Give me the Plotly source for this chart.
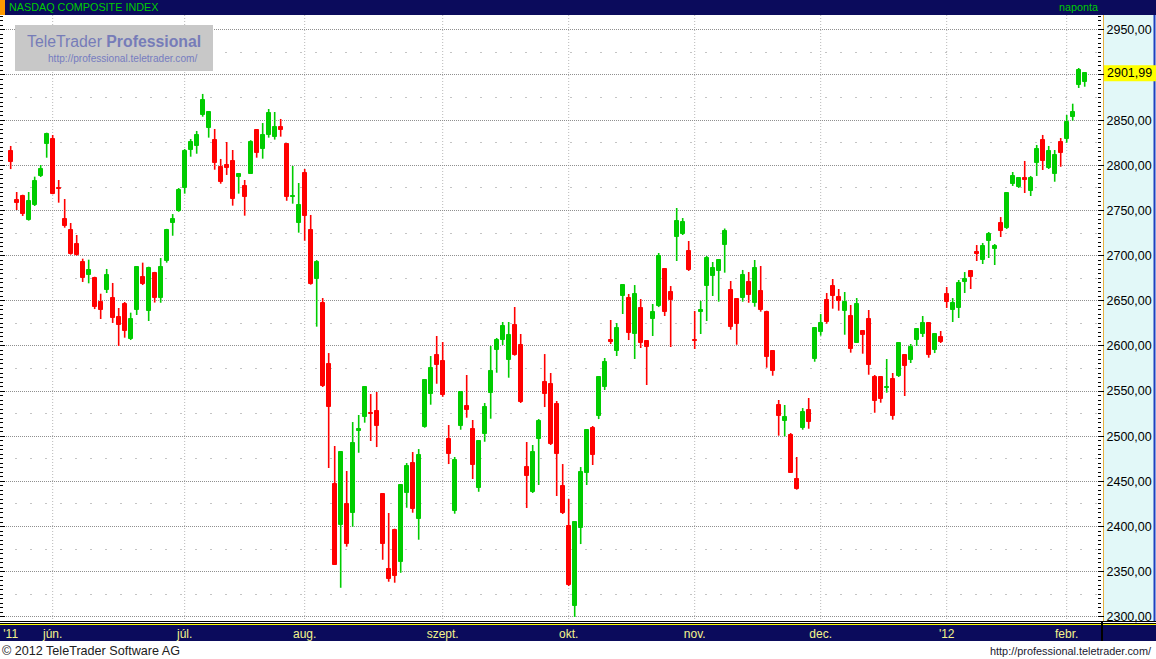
import plotly.graph_objects as go
import pandas as pd

# ---------------- data ----------------
holidays = ["2011-05-30", "2011-07-04", "2011-09-05", "2011-11-24",
            "2011-12-26", "2012-01-02", "2012-01-16"]
dates = [d.strftime("%Y-%m-%d") for d in
         pd.bdate_range("2011-05-20", "2012-02-06", freq="C", holidays=holidays)]

opens = [2815.8, 2761.6, 2766.0, 2739.8, 2756.0, 2788.2, 2823.9, 2829.1, 2774.5, 2740.5,
         2728.4, 2712.8, 2692.9, 2678.5, 2675.5, 2649.0, 2662.2, 2653.0, 2632.0, 2646.4,
         2607.6, 2639.8, 2676.3, 2638.7, 2680.7, 2653.4, 2694.4, 2736.4, 2749.7, 2775.2,
         2817.3, 2821.7, 2856.0, 2841.6, 2828.0, 2798.1, 2800.3, 2804.8, 2787.0, 2777.1,
         2790.7, 2839.1, 2818.4, 2833.9, 2831.7, 2842.4, 2823.6, 2765.0, 2736.4, 2791.5,
         2728.4, 2674.4, 2647.5, 2580.0, 2447.1, 2402.0, 2424.9, 2415.3, 2506.0, 2521.6,
         2526.0, 2527.9, 2436.0, 2352.6, 2396.5, 2361.0, 2437.4, 2470.3, 2408.6, 2510.5,
         2547.1, 2589.9, 2583.3, 2496.9, 2417.5, 2511.6, 2533.4, 2508.0, 2443.0, 2502.8,
         2548.2, 2595.8, 2606.9, 2584.7, 2623.1, 2601.0, 2465.9, 2438.2, 2496.9, 2560.0,
         2557.8, 2535.7, 2444.9, 2400.6, 2312.0, 2398.3, 2459.3, 2509.1, 2522.4, 2554.5,
         2606.5, 2594.4, 2655.3, 2653.0, 2613.2, 2642.0, 2605.4, 2629.8, 2644.2, 2685.2,
         2659.7, 2720.6, 2723.9, 2705.1, 2606.5, 2637.5, 2666.3, 2677.4, 2683.3, 2712.1,
         2661.9, 2651.9, 2653.4, 2670.8, 2647.8, 2660.8, 2637.5, 2594.4, 2534.6, 2517.2,
         2501.3, 2452.6, 2509.4, 2529.0, 2585.8, 2615.7, 2650.8, 2666.3, 2654.2, 2639.0,
         2633.1, 2603.5, 2616.5, 2629.8, 2565.6, 2565.6, 2553.0, 2563.3, 2566.7, 2589.9,
         2584.4, 2606.5, 2613.2, 2625.4, 2595.5, 2609.9, 2657.5, 2639.8, 2642.0, 2670.8,
         2682.9, 2704.0, 2695.1, 2716.2, 2707.3, 2736.1, 2730.6, 2779.3, 2776.0, 2785.9,
         2771.5, 2802.5, 2828.0, 2797.0, 2790.7, 2825.8, 2829.5, 2853.8, 2889.3, 2892.6]

highs = [2821.4, 2770.4, 2767.4, 2770.4, 2787.4, 2800.3, 2836.1, 2833.5, 2783.7, 2762.7,
         2736.1, 2722.8, 2696.6, 2695.5, 2676.6, 2657.8, 2685.2, 2669.7, 2642.0, 2648.6,
         2636.8, 2687.7, 2692.2, 2687.7, 2682.0, 2697.3, 2729.6, 2746.0, 2774.8, 2818.0,
         2829.1, 2838.0, 2879.0, 2860.1, 2840.2, 2807.0, 2825.8, 2816.9, 2790.4, 2783.7,
         2827.8, 2840.2, 2846.8, 2862.3, 2859.0, 2851.3, 2824.7, 2799.2, 2780.4, 2795.9,
         2745.0, 2695.0, 2653.0, 2592.1, 2489.2, 2483.6, 2461.5, 2515.7, 2523.5, 2554.5,
         2546.7, 2549.0, 2437.1, 2415.0, 2397.6, 2445.6, 2470.3, 2482.5, 2485.8, 2563.3,
         2588.8, 2611.0, 2604.3, 2512.4, 2477.0, 2549.0, 2567.8, 2518.0, 2495.8, 2536.8,
         2599.9, 2608.8, 2626.5, 2626.5, 2643.1, 2613.2, 2493.6, 2490.3, 2519.0, 2591.0,
         2570.0, 2539.0, 2469.2, 2430.5, 2406.0, 2465.9, 2508.0, 2511.3, 2565.6, 2586.6,
         2628.7, 2625.4, 2667.4, 2657.5, 2667.4, 2651.9, 2606.5, 2646.4, 2702.9, 2686.3,
         2666.3, 2752.7, 2741.6, 2716.2, 2638.7, 2649.7, 2699.6, 2692.9, 2696.2, 2730.0,
         2671.9, 2653.0, 2684.1, 2681.8, 2695.1, 2688.5, 2639.0, 2595.5, 2540.1, 2534.6,
         2503.5, 2477.0, 2531.2, 2542.3, 2619.8, 2635.3, 2658.6, 2674.1, 2663.0, 2659.7,
         2645.3, 2653.0, 2616.5, 2639.8, 2567.8, 2566.7, 2585.5, 2570.0, 2604.3, 2591.0,
         2602.1, 2619.8, 2633.1, 2626.5, 2614.3, 2616.5, 2665.2, 2653.0, 2673.0, 2681.8,
         2684.0, 2711.7, 2714.0, 2726.1, 2712.8, 2742.7, 2769.3, 2792.6, 2787.0, 2804.8,
         2788.2, 2822.5, 2833.6, 2821.4, 2816.9, 2830.2, 2855.7, 2868.2, 2907.7, 2903.0]

lows = [2795.8, 2750.5, 2743.9, 2738.7, 2754.9, 2787.0, 2808.4, 2767.9, 2758.6, 2730.9,
        2701.0, 2699.9, 2670.8, 2669.3, 2640.8, 2629.8, 2658.6, 2625.4, 2599.9, 2609.1,
        2606.5, 2634.2, 2667.4, 2627.6, 2648.0, 2647.8, 2692.2, 2722.0, 2748.5, 2768.6,
        2809.5, 2812.8, 2853.8, 2830.6, 2795.1, 2779.6, 2789.3, 2755.3, 2768.6, 2744.2,
        2790.7, 2808.4, 2807.3, 2830.6, 2828.4, 2831.7, 2760.7, 2757.5, 2725.4, 2716.5,
        2667.8, 2621.3, 2554.5, 2464.8, 2357.7, 2332.2, 2377.7, 2399.8, 2481.7, 2515.0,
        2494.7, 2488.0, 2363.2, 2338.9, 2337.8, 2348.8, 2420.8, 2415.3, 2385.4, 2509.4,
        2534.9, 2558.1, 2543.7, 2469.2, 2414.2, 2507.2, 2520.5, 2452.6, 2438.5, 2493.9,
        2519.4, 2570.3, 2601.0, 2564.8, 2589.2, 2536.8, 2420.5, 2437.1, 2446.0, 2532.3,
        2490.3, 2433.8, 2413.9, 2334.1, 2299.8, 2380.6, 2446.0, 2468.1, 2519.0, 2551.2,
        2602.1, 2588.8, 2635.3, 2606.5, 2585.5, 2597.7, 2556.7, 2611.0, 2643.0, 2633.1,
        2598.8, 2694.0, 2722.8, 2683.0, 2596.6, 2613.2, 2627.6, 2655.3, 2649.0, 2681.1,
        2617.9, 2601.3, 2649.0, 2647.8, 2643.4, 2637.9, 2575.9, 2567.0, 2500.6, 2499.9,
        2459.6, 2440.8, 2507.2, 2508.3, 2582.5, 2611.3, 2624.6, 2641.2, 2639.0, 2612.4,
        2592.5, 2603.5, 2591.4, 2568.1, 2526.0, 2537.1, 2548.2, 2518.3, 2565.6, 2544.5,
        2581.1, 2599.9, 2609.9, 2586.9, 2592.1, 2603.2, 2642.0, 2626.5, 2630.9, 2658.6,
        2663.0, 2694.0, 2690.7, 2697.3, 2689.6, 2720.6, 2729.5, 2777.1, 2774.9, 2769.3,
        2766.0, 2788.2, 2794.8, 2795.9, 2781.8, 2798.4, 2825.0, 2849.4, 2885.6, 2887.0]

closes = [2803.3, 2758.6, 2746.1, 2760.5, 2782.6, 2795.9, 2834.7, 2768.6, 2773.3, 2733.1,
          2702.1, 2700.7, 2675.5, 2684.1, 2643.1, 2639.8, 2678.5, 2631.2, 2623.5, 2616.8,
          2629.8, 2687.3, 2668.6, 2686.3, 2653.4, 2686.9, 2728.4, 2740.5, 2772.6, 2815.8,
          2825.8, 2833.6, 2872.3, 2859.0, 2802.9, 2781.8, 2797.4, 2763.0, 2789.8, 2765.2,
          2825.8, 2814.0, 2833.6, 2857.9, 2842.4, 2839.4, 2765.2, 2766.3, 2756.0, 2744.2,
          2668.9, 2692.9, 2555.6, 2532.7, 2357.7, 2482.5, 2381.0, 2492.5, 2507.6, 2554.5,
          2524.9, 2511.6, 2381.0, 2342.2, 2345.5, 2445.6, 2467.0, 2419.7, 2479.2, 2562.2,
          2575.5, 2579.2, 2546.0, 2480.6, 2473.6, 2549.0, 2529.4, 2468.4, 2494.7, 2532.3,
          2572.2, 2606.5, 2622.0, 2612.1, 2590.3, 2538.2, 2455.9, 2482.5, 2516.8, 2546.7,
          2491.4, 2480.3, 2415.0, 2335.2, 2405.0, 2460.4, 2506.9, 2479.2, 2565.6, 2582.2,
          2604.3, 2619.8, 2667.4, 2614.3, 2657.5, 2603.2, 2598.8, 2637.5, 2699.6, 2637.5,
          2650.8, 2738.3, 2737.2, 2684.1, 2605.4, 2639.8, 2697.3, 2686.3, 2695.1, 2727.5,
          2621.3, 2624.6, 2678.5, 2656.7, 2686.3, 2640.1, 2588.0, 2572.5, 2522.7, 2521.3,
          2459.6, 2441.9, 2526.8, 2516.1, 2619.8, 2625.4, 2626.8, 2655.6, 2650.1, 2648.6,
          2596.9, 2646.4, 2612.4, 2579.2, 2539.3, 2541.5, 2555.0, 2522.7, 2603.2, 2577.7,
          2598.8, 2618.7, 2625.4, 2590.3, 2613.2, 2604.3, 2648.6, 2647.5, 2669.7, 2674.1,
          2676.3, 2702.1, 2710.6, 2723.9, 2710.6, 2727.2, 2769.3, 2788.2, 2785.9, 2783.7,
          2785.9, 2818.0, 2804.8, 2815.8, 2811.4, 2814.0, 2848.0, 2859.0, 2905.5, 2901.99]

month_labels = ["'11", "jún.", "júl.", "aug.", "szept.", "okt.", "nov.", "dec.", "'12", "febr."]
y_levels = [2300, 2350, 2400, 2450, 2500, 2550, 2600, 2650, 2700, 2750, 2800, 2850, 2900, 2950]
y_labels = ["2300,00", "2350,00", "2400,00", "2450,00", "2500,00", "2550,00", "2600,00",
            "2650,00", "2700,00", "2750,00", "2800,00", "2850,00", "2900,00", "2950,00"]
y_half_levels = [2325, 2375, 2425, 2475, 2525, 2575, 2625, 2675, 2725, 2775, 2825, 2875, 2925]
last_label = "2901,99"
title_text = "NASDAQ COMPOSITE INDEX"
period_text = "naponta"

# ---------------- geometry / style ----------------
W, H = 1156, 659
PL, PR, PT, PB = 0, 1097, 15, 622
Y_RANGE = [2294.3, 2966.4]
X_RANGE = [-1.78, 181.05]
GREEN, RED = "#00cc00", "#ff0000"
NAVY = "#0b0b5c"
FONT = "Arial, Liberation Sans, sans-serif"
PX_PER_UNIT = (PB - PT) / (Y_RANGE[1] - Y_RANGE[0])


def fx(p):
    return p / W


def fy(p):
    return 1 - p / H


month_starts = []
seen = set()
for d in dates:
    if d[:7] not in seen:
        seen.add(d[:7])
        month_starts.append(d)

up = [c >= o for o, c in zip(opens, closes)]
colors = [GREEN if u else RED for u in up]

# the highlighted last-value label hides the nearby regular tick label
shown_labels = [lab if abs(lv - closes[-1]) * PX_PER_UNIT > 14 else ""
                for lv, lab in zip(y_levels, y_labels)]

fig = go.Figure()

# bodies first (fixes category order)
fig.add_trace(go.Bar(
    x=dates,
    base=[min(o, c) for o, c in zip(opens, closes)],
    y=[abs(c - o) for o, c in zip(opens, closes)],
    width=0.67,
    marker=dict(color=colors, line=dict(color=colors, width=1)),
    hoverinfo="skip", showlegend=False))

# wicks
for flag, col in ((True, GREEN), (False, RED)):
    xs, ys = [], []
    for d, h, l, u in zip(dates, highs, lows, up):
        if u == flag:
            xs += [d, d, None]
            ys += [l, h, None]
    fig.add_trace(go.Scatter(x=xs, y=ys, mode="lines", line=dict(color=col, width=1.6),
                             hoverinfo="skip", showlegend=False))

# dummy traces so overlay axes are drawn
fig.add_trace(go.Scatter(x=[dates[0]], y=[y_levels[0]], yaxis="y2", mode="markers",
                         marker=dict(opacity=0), hoverinfo="skip", showlegend=False))
fig.add_trace(go.Scatter(x=[dates[0]], y=[y_levels[0]], yaxis="y3", mode="markers",
                         marker=dict(opacity=0), hoverinfo="skip", showlegend=False))

shapes = []
# vertical month grid
for d in month_starts[1:]:
    shapes.append(dict(type="line", xref="x", yref="paper", x0=d, x1=d,
                       y0=fy(PB), y1=fy(PT), line=dict(color="#b8b8b8", width=1, dash="1px,2px"),
                       layer="below"))
# header bar
shapes.append(dict(type="rect", xref="paper", yref="paper", x0=0, x1=1, y0=fy(15), y1=1,
                   fillcolor=NAVY, line=dict(width=0), layer="below"))
shapes.append(dict(type="rect", xref="paper", yref="paper", x0=0, x1=fx(5), y0=fy(15), y1=1,
                   fillcolor="#ff9900", line=dict(width=0), layer="below"))
# right axis panel
shapes.append(dict(type="rect", xref="paper", yref="paper", x0=fx(1103), x1=1, y0=fy(PB), y1=fy(PT),
                   fillcolor="#e2f8f8", line=dict(width=0), layer="below"))
shapes.append(dict(type="line", xref="paper", yref="paper", x0=fx(1103.5), x1=fx(1103.5),
                   y0=fy(PB), y1=fy(PT), line=dict(color="#e8b040", width=1), layer="below"))
shapes.append(dict(type="line", xref="paper", yref="paper", x0=fx(1154.5), x1=fx(1154.5),
                   y0=fy(PB), y1=fy(PT), line=dict(color="#2040c0", width=2), layer="below"))
# yellow last-value box
half = 8 / PX_PER_UNIT
shapes.append(dict(type="rect", xref="paper", yref="y", x0=fx(1104), x1=1,
                   y0=closes[-1] - half, y1=closes[-1] + half,
                   fillcolor="#ffff00", line=dict(width=0), layer="below"))
# bottom axis bar
shapes.append(dict(type="line", xref="paper", yref="paper", x0=0, x1=1, y0=fy(621.5), y1=fy(621.5),
                   line=dict(color="black", width=1), layer="below"))
shapes.append(dict(type="line", xref="paper", yref="paper", x0=0, x1=1, y0=fy(623.5), y1=fy(623.5),
                   line=dict(color="black", width=1), layer="below"))
shapes.append(dict(type="line", xref="paper", yref="paper", x0=0, x1=1, y0=fy(624.5), y1=fy(624.5),
                   line=dict(color="#ffff00", width=1), layer="below"))
shapes.append(dict(type="rect", xref="paper", yref="paper", x0=0, x1=1, y0=fy(641), y1=fy(625),
                   fillcolor=NAVY, line=dict(width=0), layer="below"))
shapes.append(dict(type="line", xref="paper", yref="paper", x0=fx(1102), x1=fx(1102),
                   y0=fy(641), y1=fy(622), line=dict(color="black", width=2), layer="below"))
# watermark box
shapes.append(dict(type="rect", xref="paper", yref="paper", x0=fx(15), x1=fx(213), y0=fy(71), y1=fy(25),
                   fillcolor="#c8c8c8", line=dict(width=0), layer="above"))

annotations = [
    dict(text=title_text, xref="paper", yref="paper", x=fx(7), y=fy(7.5), xanchor="left",
         yanchor="middle", showarrow=False, font=dict(family=FONT, size=10.8, color="#00cc00")),
    dict(text=period_text, xref="paper", yref="paper", x=fx(1100), y=fy(7.5), xanchor="right",
         yanchor="middle", showarrow=False, font=dict(family=FONT, size=10.8, color="#00cc00")),
    dict(text=last_label, xref="paper", yref="y", x=fx(1105), y=closes[-1], xanchor="left",
         yanchor="middle", showarrow=False,
         font=dict(family=FONT, size=12.5, color="black")),
    dict(text="TeleTrader <b>Professional</b>", xref="paper", yref="paper", x=fx(25), y=fy(41),
         xanchor="left", yanchor="middle", showarrow=False,
         font=dict(family=FONT, size=15.8, color="#767cb8")),
    dict(text="http://professional.teletrader.com/", xref="paper", yref="paper", x=fx(46), y=fy(58),
         xanchor="left", yanchor="middle", showarrow=False,
         font=dict(family=FONT, size=10.1, color="#767cc0")),
    dict(text="© 2012 TeleTrader Software AG", xref="paper", yref="paper", x=0, y=fy(650.5),
         xanchor="left", yanchor="middle", showarrow=False,
         font=dict(family=FONT, size=12.6, color="#202020")),
    dict(text="http://professional.teletrader.com/", xref="paper", yref="paper", x=fx(1154),
         y=fy(650.5), xanchor="right", yanchor="middle", showarrow=False,
         font=dict(family=FONT, size=10.9, color="#202030")),
]

fig.update_layout(
    width=W, height=H,
    margin=dict(l=0, r=0, t=0, b=0, pad=0, autoexpand=False),
    paper_bgcolor="white", plot_bgcolor="rgba(0,0,0,0)",
    showlegend=False, bargap=0,
    font=dict(family=FONT),
    shapes=shapes, annotations=annotations,
    xaxis=dict(domain=[fx(PL), fx(PR)], type="category", range=X_RANGE,
               categoryorder="array", categoryarray=dates,
               tickmode="array", tickvals=month_starts, ticktext=month_labels,
               ticks="", showgrid=False, zeroline=False, showline=False,
               tickfont=dict(family=FONT, size=12, color="#f4f48c"), tickangle=0,
               ticklabelstandoff=3, fixedrange=True),
    yaxis=dict(domain=[fy(PB), fy(PT)], range=Y_RANGE, side="right", anchor="x",
               tickmode="array", tickvals=y_levels, ticktext=shown_labels,
               ticks="outside", ticklen=6, tickcolor="black", tickwidth=1,
               minor=dict(tickmode="linear", tick0=2300, dtick=5, ticks="outside", ticklen=3,
                          tickcolor="black", showgrid=False),
               showgrid=True, gridcolor="#8f8f8f", griddash="1px,1px", gridwidth=1,
               zeroline=False, showline=False, ticklabelstandoff=0,
               tickfont=dict(family=FONT, size=12.5, color="black"), fixedrange=True),
    yaxis2=dict(overlaying="y", anchor="x", side="left", range=Y_RANGE,
                tickmode="linear", tick0=2300, dtick=50, ticks="inside", ticklen=5,
                tickcolor="black",
                minor=dict(tickmode="linear", tick0=2300, dtick=5, ticks="inside", ticklen=3,
                           tickcolor="black", showgrid=False),
                showticklabels=False, showgrid=False, zeroline=False, showline=False,
                fixedrange=True),
    yaxis3=dict(overlaying="y", anchor="x", side="right", range=Y_RANGE,
                tickmode="array", tickvals=y_half_levels, ticks="", showticklabels=False,
                showgrid=True, gridcolor="#c4c4c4", griddash="2px,13px", gridwidth=1,
                zeroline=False, showline=False, fixedrange=True),
)

fig.write_html("out.html", config={"displayModeBar": False},
               post_script="document.body.style.margin='0';document.body.style.overflow='hidden';")
